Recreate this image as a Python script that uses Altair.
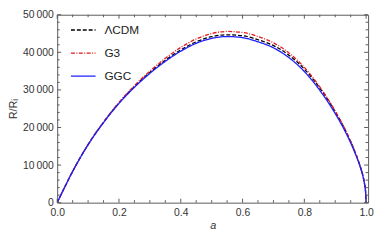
import altair as alt
import pandas as pd

# ---- data ----
a_vals = [0, 0.02, 0.05, 0.1, 0.15, 0.2, 0.25, 0.3, 0.35, 0.4, 0.45, 0.5, 0.55,
          0.6, 0.65, 0.7, 0.75, 0.8, 0.85, 0.9, 0.93, 0.96, 0.98, 0.99, 0.995, 0.998, 1.0]
ggc = [0, 3400, 8300, 15400, 21300, 26400, 30700, 34400, 37600, 40300, 42400, 43700, 44200,
       43900, 42800, 41200, 38600, 34900, 29900, 23700, 19300, 14000, 9700, 6900, 4900, 3100, 0]
lcdm = [0, 3400, 8320, 15460, 21400, 26550, 30900, 34650, 37900, 40650, 42800, 44150, 44650,
        44400, 43350, 41800, 39250, 35550, 30500, 24200, 19700, 14300, 9900, 7050, 5000, 3150, 0]
g3 = [0, 3410, 8330, 15500, 21500, 26700, 31150, 35000, 38400, 41300, 43550, 45000, 45550,
      45300, 44200, 42550, 39850, 36000, 30800, 24400, 19850, 14400, 9950, 7050, 5000, 3150, 0]

series_names = ["ΛCDM", "G3", "GGC"]
series_colors = ["#000000", "#e41a1c", "#1f1fff"]
series_dash = [[4, 2], [4, 1.5, 1, 1.5], [1, 0]]
series_width = [1.3, 1.3, 1.8]

x_major = [0, 0.2, 0.4, 0.6, 0.8, 1.0]
x_minor = [0.05, 0.1, 0.15, 0.25, 0.3, 0.35, 0.45, 0.5, 0.55, 0.65, 0.7, 0.75, 0.85, 0.9, 0.95]
y_major = [0, 10000, 20000, 30000, 40000, 50000]
y_minor = [v for v in range(2000, 50000, 2000) if v % 10000 != 0]

W, H = 316, 191
FRAME = "#5a5a5a"
FONT = "Liberation Sans"

rows = []
for name, vals in zip(series_names, [lcdm, g3, ggc]):
    for a, r in zip(a_vals, vals):
        rows.append({"a": a, "R": r, "model": name})
df = pd.DataFrame(rows)

xscale = alt.Scale(domain=[0, 1.0064], nice=False, zero=False)
yscale = alt.Scale(domain=[0, 50000], nice=False)

xaxis = alt.Axis(values=x_major, format=".1f", title="a", titleFontStyle="italic",
                 titleFontWeight="normal", titleFont=FONT, titleFontSize=11,
                 titlePadding=2, labelPadding=5, labelFlush=False)
yaxis = alt.Axis(values=y_major, title="R/Rᵢ", titleFont=FONT, titleFontSize=11,
                 titleFontWeight="normal", titlePadding=4, labelPadding=4,
                 labelExpr="datum.value == 0 ? '0' : format(datum.value/1000, 'd') + '\u2009000'")

lines = alt.Chart(df).mark_line(interpolate="monotone", clip=True).encode(
    x=alt.X("a:Q", scale=xscale, axis=xaxis),
    y=alt.Y("R:Q", scale=yscale, axis=yaxis),
    color=alt.Color("model:N", scale=alt.Scale(domain=series_names, range=series_colors),
                    legend=alt.Legend(title=None, orient="none", legendX=13, legendY=2,
                                      symbolType="stroke", symbolSize=625, symbolStrokeWidth=1.5,
                                      labelFont=FONT, labelFontSize=12, labelColor="#222",
                                      rowPadding=3.5, labelOffset=8)),
    strokeDash=alt.StrokeDash("model:N", scale=alt.Scale(domain=series_names, range=series_dash),
                              legend=None),
    strokeWidth=alt.StrokeWidth("model:N", scale=alt.Scale(domain=series_names, range=series_width),
                                legend=None),
)

tx_major = pd.DataFrame({"a": x_major})
tx_minor = pd.DataFrame({"a": x_minor})
ty_major = pd.DataFrame({"R": y_major})
ty_minor = pd.DataFrame({"R": y_minor})


def xticks(data, L):
    b = alt.Chart(data).mark_rule(color=FRAME, strokeWidth=1)
    bottom = b.encode(x=alt.X("a:Q", scale=xscale, axis=xaxis), y=alt.value(H), y2=alt.value(H - L))
    top = b.encode(x=alt.X("a:Q", scale=xscale, axis=xaxis), y=alt.value(0), y2=alt.value(L))
    return [bottom, top]


def yticks(data, L):
    b = alt.Chart(data).mark_rule(color=FRAME, strokeWidth=1)
    left = b.encode(y=alt.Y("R:Q", scale=yscale, axis=yaxis), x=alt.value(0), x2=alt.value(L))
    right = b.encode(y=alt.Y("R:Q", scale=yscale, axis=yaxis), x=alt.value(W), x2=alt.value(W - L))
    return [left, right]


chart = alt.layer(
    lines,
    *xticks(tx_major, 4), *xticks(tx_minor, 2.5),
    *yticks(ty_major, 4), *yticks(ty_minor, 2.5),
).properties(
    width=W, height=H,
    background="white",
    autosize=alt.AutoSizeParams(type="none"),
    padding={"left": 50, "top": 5, "right": 6, "bottom": 30},
).configure_view(
    stroke=FRAME, strokeWidth=1,
).configure_axis(
    domain=False, ticks=False, grid=False,
    labelFont=FONT, labelFontSize=10.5, labelColor="#333",
    titleColor="#333",
)

chart.save("out.html", embed_options={"renderer": "svg", "actions": False})
